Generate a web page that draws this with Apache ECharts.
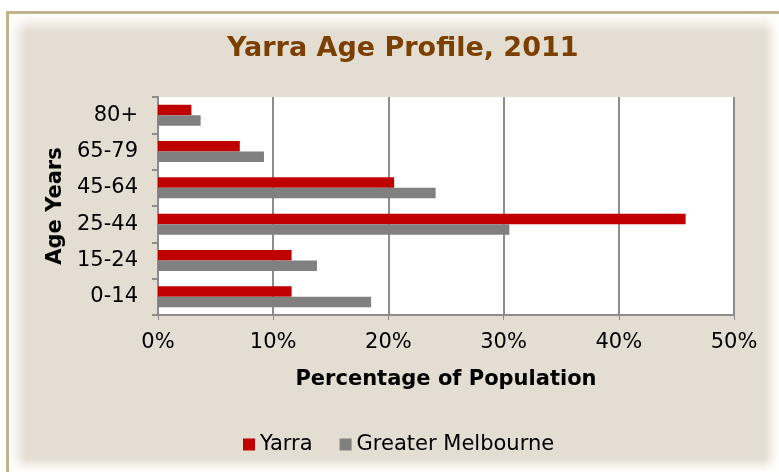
<!DOCTYPE html>
<html>
<head>
<meta charset="utf-8">
<script src="https://cdn.jsdelivr.net/npm/echarts@6/dist/echarts.min.js"></script>
<style>
  html, body { margin: 0; padding: 0; background: #fff; width: 779px; height: 472px; overflow: hidden; }
  #chart { position: absolute; left: 0; top: 0; width: 779px; height: 472px; }
</style>
</head>
<body>
<div id="chart"></div>
<script>
const categories = ['0-14', '15-24', '25-44', '45-64', '65-79', '80+'];
const yarra = [11.6, 11.6, 45.8, 20.5, 7.1, 2.9];
const greaterMelbourne = [18.5, 13.8, 30.5, 24.1, 9.2, 3.7];
const xTicks = [0, 10, 20, 30, 40, 50];

const font = 'DejaVu Sans, Verdana, sans-serif';
const beige = '#E3DDD2';
const beige0 = 'rgba(227,221,210,0)';
function glow(x, y, w, h, gx, gy, gx2, gy2) {
  return {
    type: 'rect', silent: true, z: -10,
    shape: { x: x, y: y, width: w, height: h },
    style: { fill: new echarts.graphic.LinearGradient(gx, gy, gx2, gy2, [
      { offset: 0, color: 'rgba(255,255,255,1)' },
      { offset: 0.35, color: 'rgba(255,255,255,0.7)' },
      { offset: 1, color: 'rgba(255,255,255,0)' }
    ]) }
  };
}
const chart = echarts.init(document.getElementById('chart'));
chart.setOption({
  backgroundColor: '#ffffff',
  animation: false,
  graphic: [
    { type: 'rect', silent: true, z: -10, shape: { x: 6, y: 11, width: 800, height: 500 }, style: { fill: '#C2B38F' } },
    { type: 'rect', silent: true, z: -10, shape: { x: 9, y: 14, width: 800, height: 500 }, style: { fill: beige } },
    glow(9, 14, 18, 460, 0, 0, 1, 0),
    glow(9, 14, 772, 18, 0, 0, 0, 1),
    glow(764, 14, 15, 460, 1, 0, 0, 0),
    glow(9, 458, 772, 14, 0, 1, 0, 0)
  ],
  title: {
    text: 'Yarra Age Profile, 2011',
    left: 222,
    top: 30,
    textStyle: { fontFamily: font, fontSize: 27, fontWeight: 'bold', color: '#7B3F00' }
  },
  legend: {
    data: ['Yarra', 'Greater Melbourne'],
    bottom: 12,
    left: 238,
    itemWidth: 12,
    itemHeight: 12,
    itemGap: 27,
    icon: 'rect',
    textStyle: { fontFamily: font, fontSize: 21, color: '#000' }
  },
  grid: {
    left: 158, right: 45, top: 97, bottom: 157,
    show: true, backgroundColor: '#ffffff', borderWidth: 0
  },
  xAxis: {
    type: 'value',
    min: xTicks[0],
    max: xTicks[xTicks.length - 1],
    interval: 10,
    name: 'Percentage of Population',
    nameLocation: 'middle',
    nameGap: 54,
    nameTextStyle: { fontFamily: font, fontSize: 21, fontWeight: 'bold', color: '#000' },
    axisLine: { show: true, lineStyle: { color: '#8c8c8c', width: 2 } },
    axisTick: { show: true, length: 5, lineStyle: { color: '#8c8c8c', width: 1 } },
    axisLabel: { fontFamily: font, fontSize: 21, color: '#000', margin: 17, formatter: v => v + '%' },
    splitLine: { show: true, lineStyle: { color: '#8c8c8c', width: 2 } }
  },
  yAxis: {
    type: 'category',
    data: categories,
    name: 'Age Years',
    nameLocation: 'middle',
    nameGap: 92,
    nameTextStyle: { fontFamily: font, fontSize: 21, fontWeight: 'bold', color: '#000' },
    axisLine: { show: true, lineStyle: { color: '#8c8c8c', width: 2 } },
    axisTick: { show: true, length: 6, lineStyle: { color: '#8c8c8c', width: 2 } },
    axisLabel: { fontFamily: font, fontSize: 21, color: '#000', margin: 20 },
    splitLine: { show: false }
  },
  series: [
    {
      name: 'Yarra', type: 'bar', data: yarra,
      barWidth: 10.5, barGap: '0%',
      itemStyle: { color: '#C00000' }
    },
    {
      name: 'Greater Melbourne', type: 'bar', data: greaterMelbourne,
      barWidth: 10.5, barGap: '0%',
      itemStyle: { color: '#808080' }
    }
  ]
});
</script>
</body>
</html>
